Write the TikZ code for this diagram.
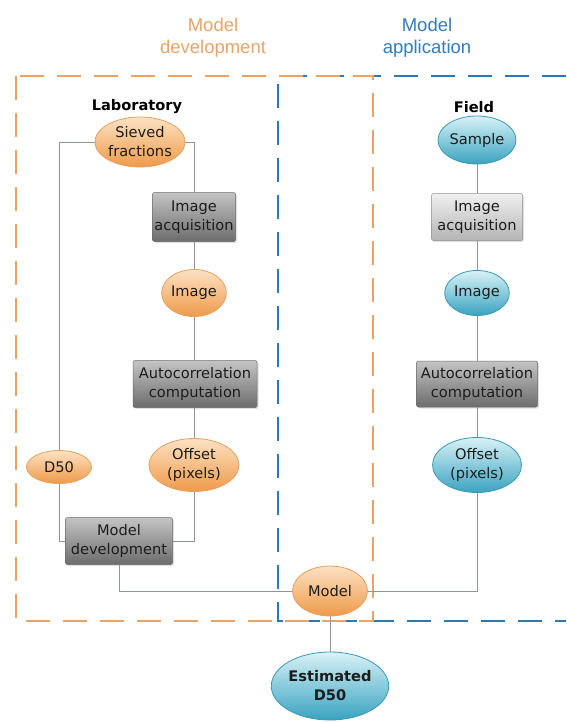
\documentclass[tikz,border=0pt]{standalone}
\usepackage{fontspec}
\setmainfont{DejaVu Sans}
\setsansfont{DejaVu Sans}
\newfontfamily\titlefont{Liberation Sans}
\usetikzlibrary{shapes.geometric,shadows}
\definecolor{orln}{HTML}{EBA262}
\definecolor{blln}{HTML}{2A7AB8}
\definecolor{ortitle}{HTML}{E9A468}
\definecolor{bltitle}{HTML}{2F7EBE}
\definecolor{orL}{HTML}{FDE2C4}
\definecolor{orM}{HTML}{F8BC80}
\definecolor{orD}{HTML}{EE9A48}
\definecolor{orB}{HTML}{E8A060}
\definecolor{blL}{HTML}{D8F2F7}
\definecolor{blM}{HTML}{86CCDD}
\definecolor{blD}{HTML}{3AA3C0}
\definecolor{blB}{HTML}{3A9AB6}
\definecolor{gyL}{HTML}{C4C4C4}
\definecolor{gyM}{HTML}{999999}
\definecolor{gyD}{HTML}{6C6C6C}
\definecolor{lgL}{HTML}{F0F0F0}
\definecolor{lgM}{HTML}{D6D6D6}
\definecolor{lgD}{HTML}{B4B4B4}
\definecolor{conn}{HTML}{8E969C}
\definecolor{txt}{HTML}{1C1C1C}
\tikzset{
  basetext/.style={text=txt, align=center, font=\fontsize{14.6}{19}\selectfont, inner sep=0pt},
  orell/.style={basetext, ellipse, draw=orB, line width=0.8pt, top color=orL, middle color=orM, bottom color=orD},
  blell/.style={basetext, ellipse, draw=blB, line width=0.8pt, top color=blL, middle color=blM, bottom color=blD},
  dkbox/.style={basetext, rectangle, rounded corners=2pt, draw=gyD, line width=0.5pt, top color=gyL, middle color=gyM, bottom color=gyD,
     drop shadow={opacity=0.25, shadow xshift=1.5pt, shadow yshift=-1.5pt}},
  ltbox/.style={basetext, rectangle, rounded corners=2pt, draw=lgD!80!black, line width=0.5pt, top color=lgL, middle color=lgM, bottom color=lgD,
     drop shadow={opacity=0.25, shadow xshift=1.5pt, shadow yshift=-1.5pt}},
  link/.style={draw=conn, line width=0.8pt},
  orframe/.style={draw=orln, line width=1.8pt, dash pattern=on 24pt off 13pt},
  blframe/.style={draw=blln, line width=1.8pt, dash pattern=on 24pt off 13pt},
  headtext/.style={text=black, font=\fontsize{14.6}{17}\selectfont\bfseries, inner sep=0pt},
  titletext/.style={font=\titlefont\fontsize{18.5}{22}\selectfont, align=center, inner sep=0pt}
}
\begin{document}
\begin{tikzpicture}[x=1pt,y=-1pt]
\useasboundingbox[fill=white] (0,0) rectangle (566,722);

% titles
\node[titletext, text=ortitle] (ttl1) at (213,38) {Model\\development};
\node[titletext, text=bltitle] (ttl2) at (427,38) {Model\\application};

% frames
\draw[blframe] (566,76) -- (278,76) -- (278,621) -- (566,621);
\draw[orframe] (16,76) rectangle (373,621);

% headings
\node[headtext] (lab) at (137,107) {Laboratory};
\node[headtext] (fld) at (474,107) {Field};

% left column
\node[orell, minimum width=85pt, minimum height=50pt] (sieved) at (140,142) {Sieved\\fractions};
\node[dkbox, minimum width=83pt, minimum height=49pt] (acq1) at (194,217) {Image\\acquisition};
\node[orell, minimum width=62pt, minimum height=47pt] (img1) at (194,293) {Image};
\node[dkbox, minimum width=124pt, minimum height=47pt] (auto1) at (195,384) {Autocorrelation\\computation};
\node[orell, minimum width=90pt, minimum height=53pt] (off1) at (194,465) {Offset\\(pixels)};
\node[orell, minimum width=65pt, minimum height=33pt] (d50) at (59,467) {D50};
\node[dkbox, minimum width=107pt, minimum height=47pt] (mdev) at (119,541) {Model\\development};

% right column
\node[blell, minimum width=78pt, minimum height=48pt] (sample) at (477,140) {Sample};
\node[ltbox, minimum width=91pt, minimum height=47pt] (acq2) at (477,217) {Image\\acquisition};
\node[blell, minimum width=64pt, minimum height=45pt] (img2) at (477,293) {Image};
\node[dkbox, minimum width=121pt, minimum height=46pt] (auto2) at (477,384) {Autocorrelation\\computation};
\node[blell, minimum width=89pt, minimum height=55pt] (off2) at (477,465) {Offset\\(pixels)};

% model and result
\node[orell, minimum width=75pt, minimum height=50pt] (model) at (330,591) {Model};
\node[blell, minimum width=100pt, minimum height=68pt, font=\fontsize{14.6}{19}\selectfont\bfseries] (est) at (330,686) {Estimated\\D50};

% connectors
\draw[link] (sieved.west) -| (d50.north);
\draw[link] (d50.south) |- (mdev.west);
\draw[link] (sieved.east) -| (acq1.north);
\draw[link] (acq1.south) -- (img1.north);
\draw[link] (img1.south) -- (auto1.north -| img1.south);
\draw[link] (auto1.south -| off1.north) -- (off1.north);
\draw[link] (off1.south) |- (mdev.east);
\draw[link] (mdev.south) |- (model.west);
\draw[link] (model.east) -| (off2.south);
\draw[link] (sample.south) -- (acq2.north);
\draw[link] (acq2.south) -- (img2.north);
\draw[link] (img2.south) -- (auto2.north);
\draw[link] (auto2.south) -- (off2.north);
\draw[link] (model.south) -- (est.north);
\end{tikzpicture}
\end{document}
